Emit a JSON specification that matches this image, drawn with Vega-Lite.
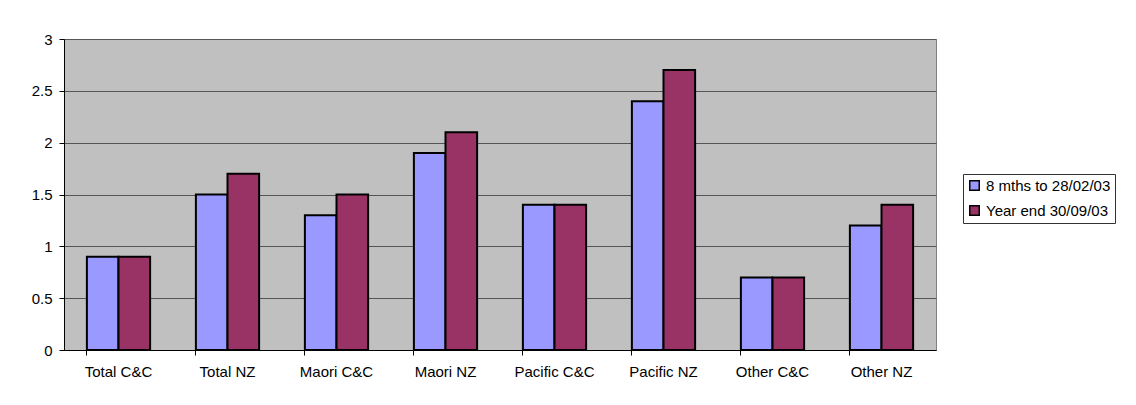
{
  "$schema": "https://vega.github.io/schema/vega-lite/v6.json",
  "width": 872,
  "height": 311,
  "autosize": {"type": "none"},
  "padding": {"left": 64, "top": 39, "right": 200, "bottom": 55},
  "background": "white",
  "config": {
    "font": "Liberation Sans",
    "view": {"fill": "#C0C0C0", "stroke": "#808080", "strokeWidth": 1}
  },
  "data": {
    "values": [
      {"category": "Total C&C", "series": "8 mths to 28/02/03", "value": 0.9},
      {"category": "Total C&C", "series": "Year end 30/09/03", "value": 0.9},
      {"category": "Total NZ", "series": "8 mths to 28/02/03", "value": 1.5},
      {"category": "Total NZ", "series": "Year end 30/09/03", "value": 1.7},
      {"category": "Maori C&C", "series": "8 mths to 28/02/03", "value": 1.3},
      {"category": "Maori C&C", "series": "Year end 30/09/03", "value": 1.5},
      {"category": "Maori NZ", "series": "8 mths to 28/02/03", "value": 1.9},
      {"category": "Maori NZ", "series": "Year end 30/09/03", "value": 2.1},
      {"category": "Pacific C&C", "series": "8 mths to 28/02/03", "value": 1.4},
      {"category": "Pacific C&C", "series": "Year end 30/09/03", "value": 1.4},
      {"category": "Pacific NZ", "series": "8 mths to 28/02/03", "value": 2.4},
      {"category": "Pacific NZ", "series": "Year end 30/09/03", "value": 2.7},
      {"category": "Other C&C", "series": "8 mths to 28/02/03", "value": 0.7},
      {"category": "Other C&C", "series": "Year end 30/09/03", "value": 0.7},
      {"category": "Other NZ", "series": "8 mths to 28/02/03", "value": 1.2},
      {"category": "Other NZ", "series": "Year end 30/09/03", "value": 1.4}
    ]
  },
  "mark": {"type": "bar", "stroke": "black", "strokeWidth": 2},
  "encoding": {
    "x": {
      "field": "category",
      "type": "nominal",
      "sort": null,
      "scale": {"paddingInner": 0.42, "paddingOuter": 0.21},
      "axis": {
        "title": null,
        "labelAngle": 0,
        "labelFontSize": 15,
        "labelColor": "black",
        "labelPadding": 9,
        "bandPosition": 0,
        "ticks": true,
        "tickColor": "black",
        "tickSize": 5,
        "domainColor": "black",
        "grid": false
      }
    },
    "xOffset": {"field": "series", "type": "nominal", "sort": null},
    "y": {
      "field": "value",
      "type": "quantitative",
      "scale": {"domain": [0, 3], "nice": false},
      "axis": {
        "title": null,
        "values": [0, 0.5, 1, 1.5, 2, 2.5, 3],
        "format": "~g",
        "labelFontSize": 15,
        "labelColor": "black",
        "labelPadding": 7,
        "tickColor": "black",
        "tickSize": 5,
        "domainColor": "black",
        "gridColor": "#555555",
        "gridOpacity": 1
      }
    },
    "color": {
      "field": "series",
      "type": "nominal",
      "sort": null,
      "scale": {"range": ["#9999FF", "#993366"]},
      "legend": {
        "title": null,
        "orient": "none",
        "legendX": 899,
        "legendY": 135,
        "strokeColor": "#333333",
        "fillColor": "white",
        "padding": 4,
        "symbolType": "square",
        "symbolSize": 90,
        "symbolStrokeColor": "black",
        "symbolStrokeWidth": 1.5,
        "symbolOpacity": 1,
        "labelFontSize": 15,
        "labelColor": "black",
        "rowPadding": 8,
        "labelOffset": 4
      }
    }
  }
}
